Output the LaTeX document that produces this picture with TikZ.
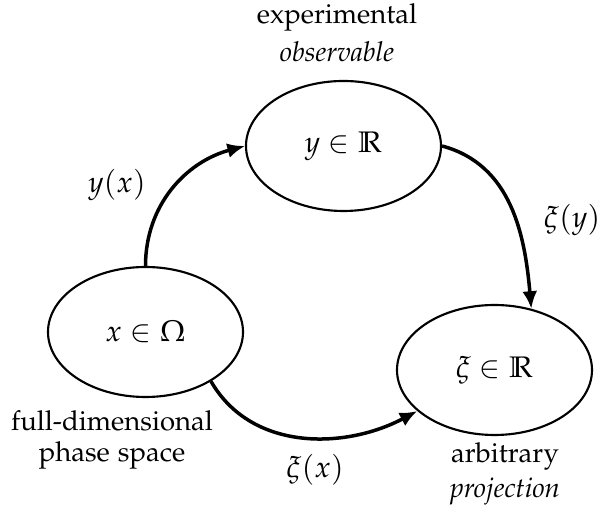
\documentclass[tikz,border=0pt]{standalone}
\usepackage[T1]{fontenc}
\usepackage[sc]{mathpazo}
\usepackage{amssymb}
\usetikzlibrary{shapes.geometric,arrows.meta}
\begin{document}
\begin{tikzpicture}[x=0.4pt,y=-0.4pt,
  font=\fontsize{11pt}{13pt}\selectfont,
  mathsz/.style={font=\fontsize{11.9pt}{14pt}\selectfont},
  state/.style={ellipse,draw,line width=0.85pt,minimum width=78pt,minimum height=52pt,inner sep=0pt,mathsz},
  lbl/.style={inner sep=0pt,align=center},
  conn/.style={line width=1.4pt,-{Latex[length=7pt,width=6pt]}}]
\useasboundingbox (0,0) rectangle (599,510);
\node[state] (t) at (343.5,146) {$y\in\mathbb{R}$};
\node[state] (l) at (145.5,332) {$x\in\Omega$};
\node[state] (r) at (494.5,370) {$\xi\in\mathbb{R}$};
\node[lbl] (t1) at (337,17) {experimental};
\node[lbl] (t2) at (337,52) {\itshape observable};
\node[lbl] (l1) at (112,421) {full-dimensional};
\node[lbl] (l2) at (112,455) {phase space};
\node[lbl] (r1) at (505,456) {arbitrary};
\node[lbl] (r2) at (505,491) {\itshape projection};
\node[lbl,mathsz] (ayx) at (117,185) {$y(x)$};
\node[lbl,mathsz] (axy) at (572,220) {$\xi(y)$};
\node[lbl,mathsz] (axx) at (315,470) {$\xi(x)$};
\draw[conn] (l.north) to[out=90,in=195] (t.west);
\draw[conn] (t.east) to[out=-15,in=95] (r.59);
\draw[conn] (l.-37) to[out=-60,in=208] (r.208);
\end{tikzpicture}
\end{document}
